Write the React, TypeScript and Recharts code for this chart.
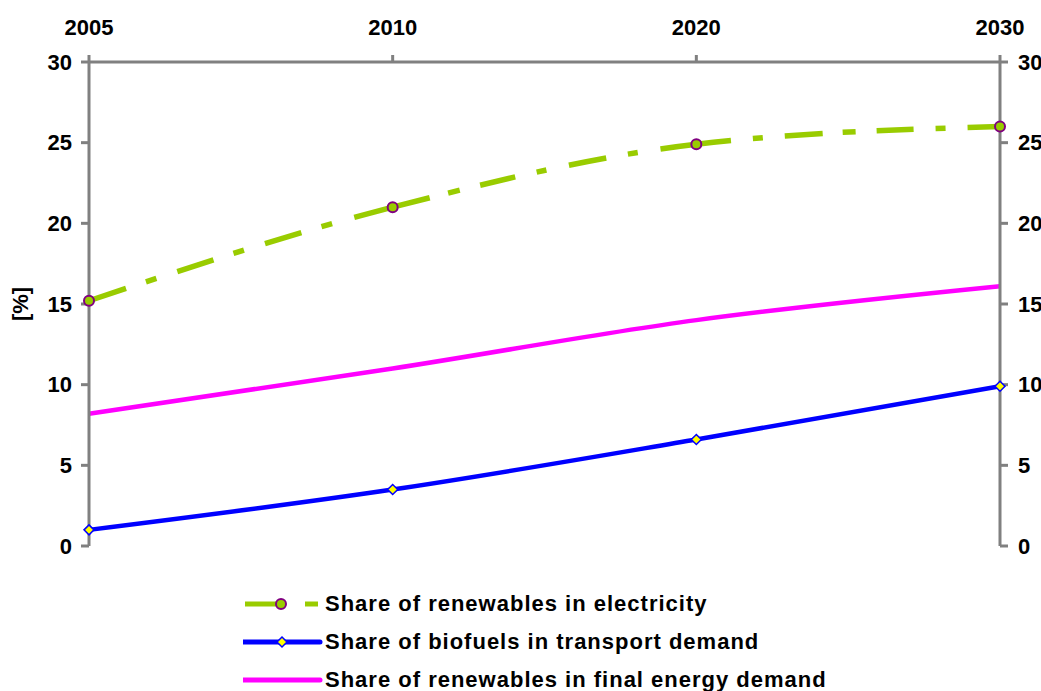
import { LineChart, Line, XAxis, YAxis, Legend } from 'recharts';

const years = ['2005', '2010', '2020', '2030'];
const electricity = [15.2, 21.0, 24.9, 26.0];
const biofuels = [1.0, 3.5, 6.6, 9.9];
const finalEnergy = [8.2, 11.0, 14.0, 16.1];
const yTicks = [0, 5, 10, 15, 20, 25, 30];

const data = years.map((year, i) => ({
  year,
  electricity: electricity[i],
  biofuels: biofuels[i],
  finalEnergy: finalEnergy[i],
}));

const GREEN = '#99CC00';
const BLUE = '#0000FF';
const MAGENTA = '#FF00FF';
const AXIS = '#808080';
const FONT = '"Liberation Sans", Arial, sans-serif';

// long-dash-dot, restarting at each data point like the original
const ELEC_DASH =
  '39 21 11 22 38 21 11 22 38 21 11 23 78 19 12 21 36 22 10 23 38 22 10 23 71 22 10 22 38 20 13 21 37 22 10 22 60 0';

const tickStyle = { fill: '#000', fontSize: 22, fontWeight: 'bold', fontFamily: FONT };

function CircleDot(props: any) {
  const { cx, cy } = props;
  if (cx == null || cy == null) return null;
  return <circle cx={cx} cy={cy} r={5} fill={GREEN} stroke="#800080" strokeWidth={2} />;
}

function DiamondDot(props: any) {
  const { cx, cy } = props;
  if (cx == null || cy == null) return null;
  const s = 5;
  return (
    <polygon
      points={`${cx},${cy - s} ${cx + s},${cy} ${cx},${cy + s} ${cx - s},${cy}`}
      fill="#FFFF00"
      stroke={BLUE}
      strokeWidth={1.5}
    />
  );
}

const legendItems = [
  { key: 'electricity', label: 'Share of renewables in electricity' },
  { key: 'biofuels', label: 'Share of biofuels in transport demand' },
  { key: 'finalEnergy', label: 'Share of renewables in final energy demand' },
];

function LegendContent() {
  return (
    <div style={{ fontFamily: FONT, fontWeight: 'bold', fontSize: 22, letterSpacing: 1, color: '#000' }}>
      {legendItems.map((item) => (
        <div key={item.key} style={{ display: 'flex', alignItems: 'center', height: 38, whiteSpace: 'nowrap' }}>
          <svg width={82} height={20} style={{ flex: 'none' }}>
            {item.key === 'electricity' && (
              <g>
                <line x1={2} y1={10} x2={40} y2={10} stroke={GREEN} strokeWidth={5} />
                <line x1={62} y1={10} x2={75} y2={10} stroke={GREEN} strokeWidth={5} />
                <circle cx={38} cy={10} r={5} fill={GREEN} stroke="#800080" strokeWidth={2} />
              </g>
            )}
            {item.key === 'biofuels' && (
              <g>
                <line x1={0} y1={10} x2={77} y2={10} stroke={BLUE} strokeWidth={5} strokeLinecap="round" />
                <polygon points="39,5 44,10 39,15 34,10" fill="#FFFF00" stroke={BLUE} strokeWidth={1.5} />
              </g>
            )}
            {item.key === 'finalEnergy' && (
              <line x1={0} y1={10} x2={77} y2={10} stroke={MAGENTA} strokeWidth={5} strokeLinecap="round" />
            )}
          </svg>
          <span>{item.label}</span>
        </div>
      ))}
    </div>
  );
}

export default function App() {
  return (
    <div style={{ position: 'absolute', left: 0, top: 0, width: 1041, height: 691, background: '#fff', overflow: 'hidden' }}>
      <LineChart width={1041} height={691} data={data} margin={{ top: 0, right: 0, left: 0, bottom: 145 }}>
        <XAxis
          dataKey="year"
          orientation="top"
          height={62}
          axisLine={{ stroke: AXIS, strokeWidth: 3 }}
          tickLine={{ stroke: AXIS, strokeWidth: 3 }}
          tickSize={7}
          tickMargin={20}
          tick={tickStyle}
          interval={0}
        />
        <YAxis
          yAxisId="left"
          width={89}
          domain={[0, 30]}
          ticks={yTicks}
          interval={0}
          axisLine={{ stroke: AXIS, strokeWidth: 3 }}
          tickLine={{ stroke: AXIS, strokeWidth: 3 }}
          tickSize={8}
          tickMargin={9}
          tick={tickStyle}
          label={{
            value: '[%]',
            angle: -90,
            position: 'center',
            dx: -24,
            fill: '#000',
            fontSize: 22,
            fontWeight: 'bold',
            fontFamily: FONT,
          }}
        />
        <YAxis
          yAxisId="right"
          orientation="right"
          width={41}
          domain={[0, 30]}
          ticks={yTicks}
          interval={0}
          axisLine={{ stroke: AXIS, strokeWidth: 3 }}
          tickLine={{ stroke: AXIS, strokeWidth: 3 }}
          tickSize={8}
          tickMargin={10}
          tick={tickStyle}
        />
        <Legend
          layout="vertical"
          align="center"
          verticalAlign="middle"
          wrapperStyle={{ top: 585, left: 243, width: 780 }}
          content={() => <LegendContent />}
        />
        <Line
          yAxisId="right"
          type="monotone"
          dataKey="finalEnergy"
          stroke={MAGENTA}
          strokeWidth={4.5}
          dot={false}
          isAnimationActive={false}
        />
        <Line
          yAxisId="left"
          type="monotone"
          dataKey="biofuels"
          stroke={BLUE}
          strokeWidth={4.5}
          dot={<DiamondDot />}
          isAnimationActive={false}
        />
        <Line
          yAxisId="left"
          type="monotone"
          dataKey="electricity"
          stroke={GREEN}
          strokeWidth={5.5}
          strokeDasharray={ELEC_DASH}
          dot={<CircleDot />}
          isAnimationActive={false}
        />
      </LineChart>
    </div>
  );
}
